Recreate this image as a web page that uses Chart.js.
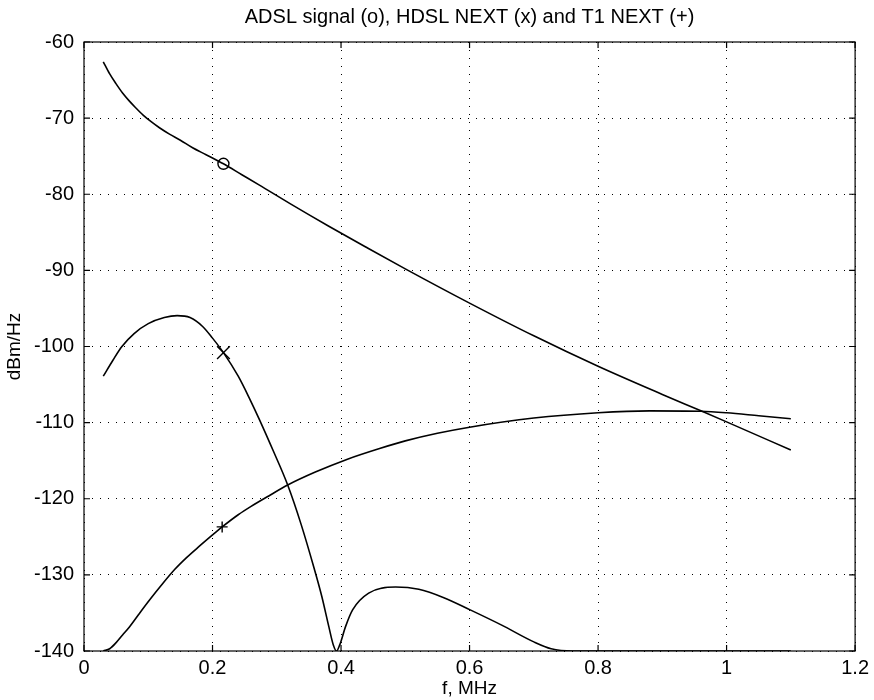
<!DOCTYPE html>
<html>
<head>
<meta charset="utf-8">
<script src="https://cdn.jsdelivr.net/npm/chart.js@4"></script>
<style>
  html, body { margin: 0; padding: 0; background: #fff; }
  #wrap { width: 874px; height: 700px; }
</style>
</head>
<body>
<div id="wrap"><canvas id="myChart" width="874" height="700"></canvas></div>
<script>
// ADSL signal (o)
var adslF  = [0.03, 0.04, 0.05, 0.06, 0.07, 0.08, 0.092, 0.105, 0.118, 0.133, 0.15, 0.169, 0.19, 0.217, 0.245, 0.273,
              0.32, 0.381, 0.44, 0.5, 0.6, 0.7, 0.8, 0.9, 0.96, 1.0, 1.1];
var adslDb = [-62.6, -64.2, -65.5, -66.7, -67.7, -68.6, -69.6, -70.5, -71.3, -72.1, -72.9, -73.9, -74.8, -76.0, -77.4, -78.8,
              -81.2, -84.2, -87.0, -89.8, -94.3, -98.6, -102.6, -106.3, -108.45, -109.9, -113.6];

// HDSL NEXT (x)
var hdslF  = [0.03, 0.045, 0.059, 0.078, 0.1, 0.125, 0.145, 0.165, 0.185, 0.2, 0.217, 0.24, 0.258, 0.273, 0.295, 0.317, 0.338, 0.358, 0.37, 0.381, 0.388, 0.393,
              0.398, 0.407, 0.418, 0.443, 0.485, 0.521, 0.56, 0.601, 0.65, 0.7, 0.727, 0.76, 0.9, 1.1];
var hdslDb = [-103.9, -101.8, -100.0, -98.3, -97.0, -96.2, -95.95, -96.2, -97.4, -98.9, -100.8, -103.9, -106.9, -109.6, -113.8, -118.2, -123.4, -129.1, -132.8, -136.8, -139.2, -140,
              -139.2, -136.8, -134.6, -132.4, -131.6, -131.9, -133.0, -134.6, -136.6, -138.8, -139.7, -140, -140, -140];

// T1 NEXT (+)
var t1F  = [0.03, 0.04, 0.05, 0.06, 0.071, 0.085, 0.102, 0.12, 0.141, 0.16, 0.18, 0.2, 0.215, 0.24, 0.26, 0.29, 0.317,
            0.36, 0.41, 0.46, 0.5, 0.55, 0.6, 0.7, 0.8, 0.88, 0.96, 1.0, 1.05, 1.1];
var t1Db = [-140, -139.7, -138.9, -137.9, -136.8, -135.2, -133.3, -131.4, -129.3, -127.7, -126.2, -124.75, -123.7, -122.1, -121.0, -119.5, -118.2,
            -116.5, -114.8, -113.4, -112.4, -111.4, -110.6, -109.4, -108.7, -108.45, -108.5, -108.7, -109.1, -109.5];

// marker positions on each curve
var markF  = [0.217, 0.217, 0.215];
var markDb = [-76.0, -100.8, -123.7];

var xTicks = [0, 0.2, 0.4, 0.6, 0.8, 1, 1.2];
var yTicks = [-60, -70, -80, -90, -100, -110, -120, -130, -140];

var titleText = "ADSL signal (o), HDSL NEXT (x) and T1 NEXT (+)";
var xLabel = "f, MHz";
var yLabel = "dBm/Hz";

function pts(xs, ys) {
    var out = [];
    for (var i = 0; i < xs.length; i++) out.push({ x: xs[i], y: ys[i] });
    return out;
}

var FONT = "'Liberation Sans', Arial, Helvetica, sans-serif";

function lineSet(xs, ys) {
    return {
        data: pts(xs, ys),
        showLine: true,
        borderColor: '#000',
        borderWidth: 1.6,
        pointRadius: 0,
        cubicInterpolationMode: 'monotone',
        fill: false
    };
}

function markSet(i, style, r) {
    return {
        data: [{ x: markF[i], y: markDb[i] }],
        showLine: false,
        pointStyle: style,
        pointRadius: r,
        pointBorderColor: '#000',
        pointBackgroundColor: 'rgba(0,0,0,0)',
        pointBorderWidth: 1.4
    };
}

// box round the plot and MATLAB style inward tick marks
var boxPlugin = {
    id: 'boxPlugin',
    afterDatasetsDraw: function (chart) {
        var ctx = chart.ctx, a = chart.chartArea;
        var xs = chart.scales.x, ys = chart.scales.y;
        var len = 6;
        ctx.save();
        ctx.strokeStyle = '#000';
        ctx.lineWidth = 1.2;
        ctx.strokeRect(a.left, a.top, a.right - a.left, a.bottom - a.top);
        ctx.beginPath();
        xTicks.forEach(function (v) {
            var px = xs.getPixelForValue(v);
            ctx.moveTo(px, a.bottom); ctx.lineTo(px, a.bottom - len);
            ctx.moveTo(px, a.top); ctx.lineTo(px, a.top + len);
        });
        yTicks.forEach(function (v) {
            var py = ys.getPixelForValue(v);
            ctx.moveTo(a.left, py); ctx.lineTo(a.left + len, py);
            ctx.moveTo(a.right, py); ctx.lineTo(a.right - len, py);
        });
        ctx.stroke();
        ctx.restore();
    }
};

var ctx = document.getElementById('myChart');
var myChart = new Chart(ctx, {
    type: 'scatter',
    data: {
        datasets: [
            lineSet(adslF, adslDb),
            lineSet(hdslF, hdslDb),
            lineSet(t1F, t1Db),
            markSet(0, 'circle', 5.5),
            markSet(1, 'crossRot', 9),
            markSet(2, 'cross', 5.5)
        ]
    },
    options: {
        responsive: false,
        animation: false,
        layout: { padding: { left: 0, right: 16, top: 0, bottom: 0 } },
        plugins: {
            legend: { display: false },
            tooltip: { enabled: false }
        },
        scales: {
            x: {
                type: 'linear',
                min: 0,
                max: 1.2,
                afterBuildTicks: function (s) { s.ticks = xTicks.map(function (v) { return { value: v }; }); },
                afterFit: function (s) { s.height = 49; },
                ticks: {
                    color: '#000',
                    font: { family: FONT, size: 20 },
                    padding: 5,
                    maxRotation: 0,
                    callback: function (v) { return String(v); }
                },
                grid: { color: '#000', lineWidth: 1, drawTicks: false },
                border: { display: false, dash: [1, 7] },
                title: {
                    display: true,
                    text: xLabel,
                    color: '#000',
                    font: { family: FONT, size: 19 },
                    padding: { top: 0, bottom: 0 }
                }
            },
            // top axis only carries the chart title, centred over the plot
            x2: {
                type: 'linear',
                position: 'top',
                min: 0,
                max: 1.2,
                afterFit: function (s) { s.height = 42; },
                ticks: { display: false },
                grid: { display: false, drawTicks: false },
                border: { display: false },
                title: {
                    display: true,
                    text: titleText,
                    color: '#000',
                    font: { family: FONT, size: 20 },
                    padding: { top: 5, bottom: 0 }
                }
            },
            y: {
                type: 'linear',
                min: -140,
                max: -60,
                afterBuildTicks: function (s) { s.ticks = yTicks.map(function (v) { return { value: v }; }); },
                afterFit: function (s) { s.width = 84; },
                ticks: {
                    color: '#000',
                    font: { family: FONT, size: 20 },
                    padding: 10
                },
                grid: { color: '#000', lineWidth: 1, drawTicks: false },
                border: { display: false, dash: [1, 7] },
                title: {
                    display: true,
                    text: yLabel,
                    color: '#000',
                    font: { family: FONT, size: 19 },
                    padding: { top: 3, bottom: 0 }
                }
            }
        }
    },
    plugins: [boxPlugin]
});
</script>
</body>
</html>
